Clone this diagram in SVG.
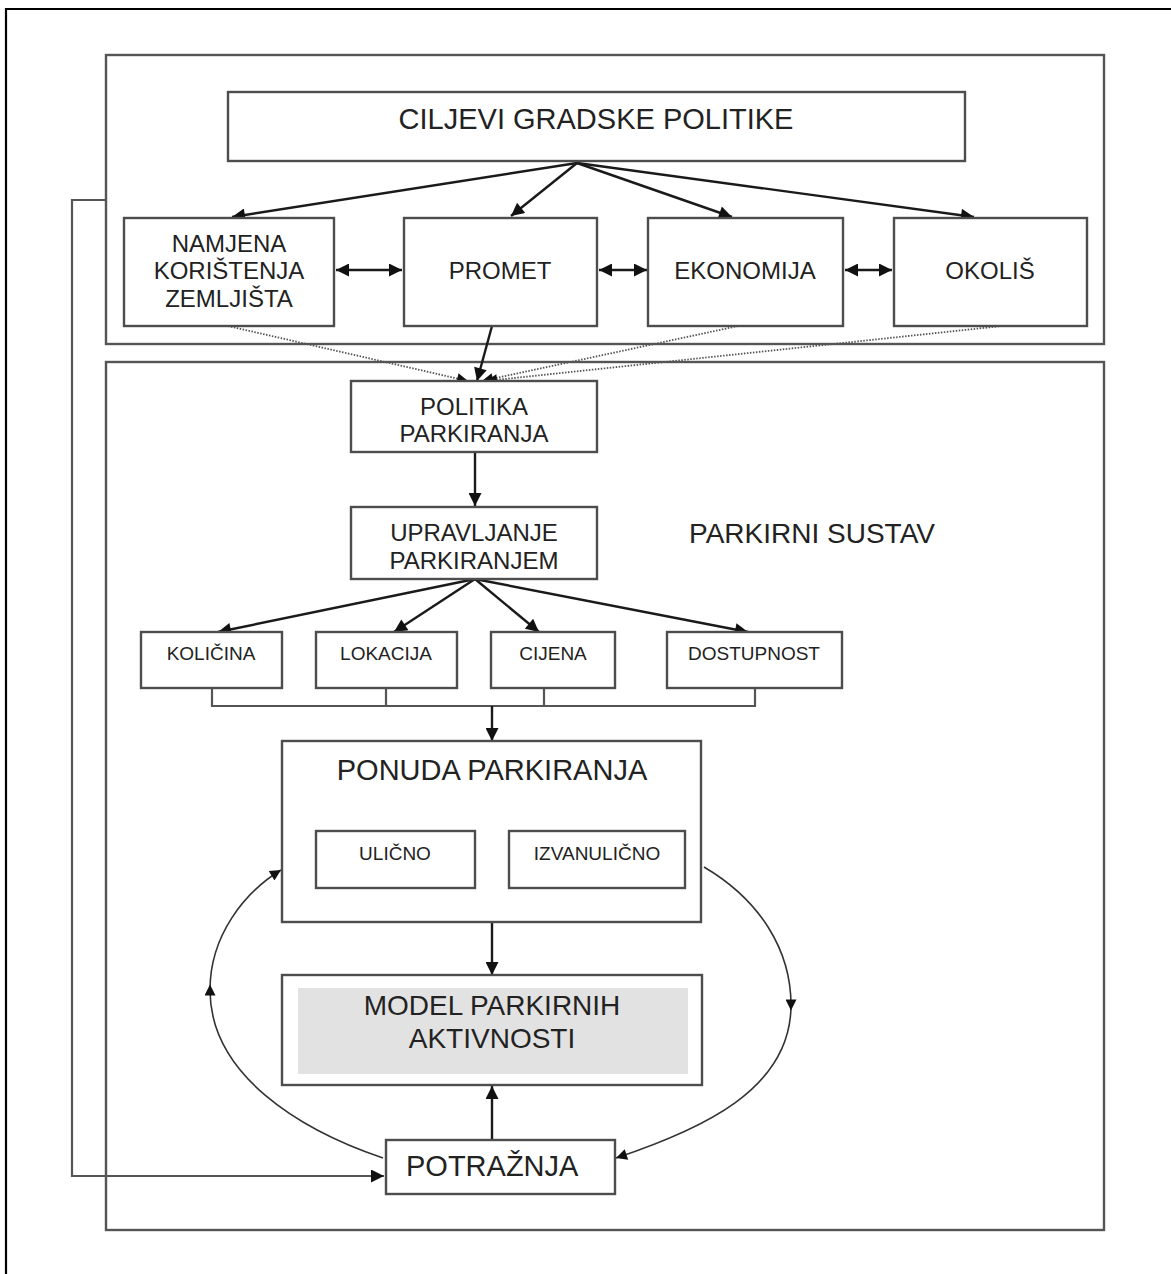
<svg xmlns="http://www.w3.org/2000/svg" width="1171" height="1274" viewBox="0 0 1171 1274">
<defs>
<style>
.box{fill:#fff;stroke:#4d4d4d;stroke-width:2.4}
.frame{fill:none;stroke:#555;stroke-width:2.4}
.t{font-family:"Liberation Sans",Arial,sans-serif;fill:#222;text-anchor:middle}
.ln{fill:none;stroke:#1a1a1a;stroke-width:2.4}
.thin{fill:none;stroke:#333;stroke-width:1.6}
.dot{fill:none;stroke:#555;stroke-width:1.8;stroke-dasharray:1.5 1.5}
.br{fill:none;stroke:#555;stroke-width:2.2}
</style>
<marker id="a" viewBox="0 0 10 10" refX="10" refY="5" markerUnits="userSpaceOnUse" markerWidth="15" markerHeight="13" orient="auto-start-reverse">
<path d="M0,0 L10,5 L0,10 z" fill="#111"/>
</marker>
<marker id="s" viewBox="0 0 10 10" refX="10" refY="5" markerUnits="userSpaceOnUse" markerWidth="12" markerHeight="11" orient="auto-start-reverse">
<path d="M0,0 L10,5 L0,10 z" fill="#111"/>
</marker>
<marker id="m" viewBox="0 0 10 10" refX="5" refY="5" markerUnits="userSpaceOnUse" markerWidth="12" markerHeight="11" orient="auto">
<path d="M0,0 L10,5 L0,10 z" fill="#111"/>
</marker>
</defs>
<rect width="1171" height="1274" fill="#fff"/>
<path d="M6,1274 V9 H1171" fill="none" stroke="#000" stroke-width="2.2"/>

<g id="containers">
<rect id="gradska-politika" class="frame" x="106" y="55" width="998" height="289"/>
<rect id="parkirni-sustav-box" class="frame" x="106" y="362" width="998" height="868"/>
</g>

<g id="connectors">
<line class="ln" x1="577" y1="163" x2="232" y2="217" marker-end="url(#a)"/>
<line class="ln" x1="577" y1="163" x2="511" y2="216" marker-end="url(#a)"/>
<line class="ln" x1="577" y1="163" x2="732" y2="217" marker-end="url(#a)"/>
<line class="ln" x1="577" y1="163" x2="974" y2="217" marker-end="url(#a)"/>
<line class="ln" x1="336" y1="270" x2="402" y2="270" marker-start="url(#a)" marker-end="url(#a)"/>
<line class="ln" x1="599" y1="270" x2="647" y2="270" marker-start="url(#a)" marker-end="url(#a)"/>
<line class="ln" x1="845" y1="270" x2="892" y2="270" marker-start="url(#a)" marker-end="url(#a)"/>
<path class="dot" d="M228,326 L468,381" marker-end="url(#s)"/>
<path class="dot" d="M738,326 L482,381" marker-end="url(#s)"/>
<path class="dot" d="M1002,326 L486,381" marker-end="url(#s)"/>
<line class="ln" x1="492" y1="326" x2="477" y2="381" marker-end="url(#a)"/>
<line class="ln" x1="475" y1="452" x2="475" y2="506" marker-end="url(#a)"/>
<line class="ln" x1="475" y1="579" x2="218" y2="632" marker-end="url(#a)"/>
<line class="ln" x1="475" y1="579" x2="394" y2="632" marker-end="url(#a)"/>
<line class="ln" x1="475" y1="579" x2="539" y2="632" marker-end="url(#a)"/>
<line class="ln" x1="475" y1="579" x2="748" y2="632" marker-end="url(#a)"/>
<path class="br" d="M212,688 V706 H755 V688 M386,688 V706 M544,688 V706"/>
<line class="ln" x1="492" y1="706" x2="492" y2="741" marker-end="url(#a)"/>
<line class="ln" x1="492" y1="922" x2="492" y2="975" marker-end="url(#a)"/>
<line class="ln" x1="492" y1="1140" x2="492" y2="1086" marker-end="url(#a)"/>
<path class="thin" d="M383,1158 C300,1130 210,1075 210,990 C210,935 245,892 281,870" marker-mid="url(#m)" marker-end="url(#s)"/>
<path class="thin" d="M704,867 C760,900 791,950 791,1005 C791,1090 700,1130 616,1158" marker-mid="url(#m)" marker-end="url(#s)"/>
<path class="br" d="M106,200 H72 V1176 H384" marker-end="url(#a)"/>
</g>

<g id="ciljevi"><rect class="box" x="228" y="92" width="737" height="69"/><text class="t" x="596" y="129" font-size="29">CILJEVI GRADSKE POLITIKE</text></g>
<g id="namjena"><rect class="box" x="124" y="218" width="210" height="108"/><text class="t" x="229" y="251.5" font-size="24">NAMJENA</text><text class="t" x="229" y="279" font-size="24">KORIŠTENJA</text><text class="t" x="229" y="306.5" font-size="24">ZEMLJIŠTA</text></g>
<g id="promet"><rect class="box" x="404" y="218" width="193" height="108"/><text class="t" x="500" y="279" font-size="24">PROMET</text></g>
<g id="ekonomija"><rect class="box" x="648" y="218" width="195" height="108"/><text class="t" x="745" y="279" font-size="24">EKONOMIJA</text></g>
<g id="okolis"><rect class="box" x="894" y="218" width="193" height="108"/><text class="t" x="990" y="279" font-size="24">OKOLIŠ</text></g>

<g id="politika"><rect class="box" x="351" y="381" width="246" height="71"/><text class="t" x="474" y="415" font-size="24">POLITIKA</text><text class="t" x="474" y="442" font-size="24">PARKIRANJA</text></g>
<g id="upravljanje"><rect class="box" x="351" y="507" width="246" height="72"/><text class="t" x="474" y="541" font-size="24">UPRAVLJANJE</text><text class="t" x="474" y="569" font-size="24">PARKIRANJEM</text></g>
<g id="parkirni-sustav"><text class="t" x="812" y="543" font-size="28">PARKIRNI SUSTAV</text></g>

<g id="kolicina"><rect class="box" x="141" y="632" width="141" height="56"/><text class="t" x="211" y="660" font-size="19">KOLIČINA</text></g>
<g id="lokacija"><rect class="box" x="316" y="632" width="141" height="56"/><text class="t" x="386" y="660" font-size="19">LOKACIJA</text></g>
<g id="cijena"><rect class="box" x="491" y="632" width="124" height="56"/><text class="t" x="553" y="660" font-size="19">CIJENA</text></g>
<g id="dostupnost"><rect class="box" x="667" y="632" width="175" height="56"/><text class="t" x="754" y="660" font-size="19">DOSTUPNOST</text></g>

<g id="ponuda"><rect class="box" x="282" y="741" width="419" height="181"/><text class="t" x="492" y="780" font-size="29">PONUDA PARKIRANJA</text></g>
<g id="ulicno"><rect class="box" x="316" y="831" width="159" height="57"/><text class="t" x="395" y="860" font-size="19">ULIČNO</text></g>
<g id="izvanulicno"><rect class="box" x="509" y="831" width="176" height="57"/><text class="t" x="597" y="860" font-size="19">IZVANULIČNO</text></g>

<g id="model"><rect class="box" x="282" y="975" width="420" height="110"/><rect x="298" y="988" width="390" height="86" fill="#e2e2e2"/><text class="t" x="492" y="1015" font-size="28">MODEL PARKIRNIH</text><text class="t" x="492" y="1048" font-size="28">AKTIVNOSTI</text></g>

<g id="potraznja"><rect class="box" x="386" y="1140" width="229" height="54"/><text class="t" x="406" y="1176" font-size="29" style="text-anchor:start">POTRAŽNJA</text></g>
</svg>
